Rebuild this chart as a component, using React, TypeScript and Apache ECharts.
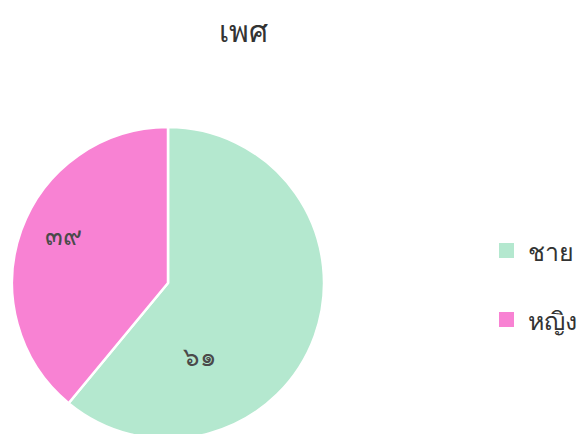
import React, { useEffect, useRef } from "react";
import * as echarts from "echarts";

const title = "เพศ";
const categories = ["ชาย", "หญิง"];
const values = [61, 39];
const colors = ["#b4e8cf", "#f882d3"];
const labelShift = [
  [-44, 46],
  [-28, -21],
];

const thaiDigits = ["๐", "๑", "๒", "๓", "๔", "๕", "๖", "๗", "๘", "๙"];
const toThai = (n: number) =>
  String(n)
    .split("")
    .map((c) => (c >= "0" && c <= "9" ? thaiDigits[+c] : c))
    .join("");

export default function App() {
  const ref = useRef<HTMLDivElement>(null);
  useEffect(() => {
    if (!ref.current) return;
    const chart = echarts.init(ref.current, undefined, { renderer: "svg" });
    chart.setOption({
      animation: false,
      backgroundColor: "#ffffff",
      title: {
        text: title,
        left: 230,
        top: 0,
        padding: [0, 5, 0, 5],
        textAlign: "center",
        textStyle: {
          fontFamily: "Noto Sans, sans-serif",
          fontSize: 30,
          fontWeight: 300,
          lineHeight: 44,
          color: "#333333",
        },
      },
      legend: {
        orient: "vertical",
        left: 484,
        top: 225,
        itemWidth: 17,
        itemHeight: 17,
        itemGap: 44,
        icon: "rect",
        data: categories,
        textStyle: {
          fontFamily: "Noto Sans, sans-serif",
          fontSize: 25,
          fontWeight: 300,
          color: "#333333",
          padding: [0, 0, 0, 8],
        },
      },
      series: [
        {
          type: "pie",
          center: [160, 275],
          radius: 156,
          startAngle: 90,
          clockwise: true,
          itemStyle: { borderColor: "#ffffff", borderWidth: 2.5 },
          label: {
            position: "inside",
            formatter: (p: any) => toThai(p.value),
            fontFamily: "Noto Sans, sans-serif",
            fontSize: 26,
            fontWeight: 300,
            color: "#4a4a4a",
          },
          labelLine: { show: false },
          labelLayout: (p: any) => ({
            dx: labelShift[p.dataIndex][0],
            dy: labelShift[p.dataIndex][1],
          }),
          data: categories.map((name, i) => ({
            name,
            value: values[i],
            itemStyle: { color: colors[i] },
          })),
        },
      ],
    });
    return () => chart.dispose();
  }, []);
  return <div ref={ref} style={{ width: 578, height: 426 }} />;
}
